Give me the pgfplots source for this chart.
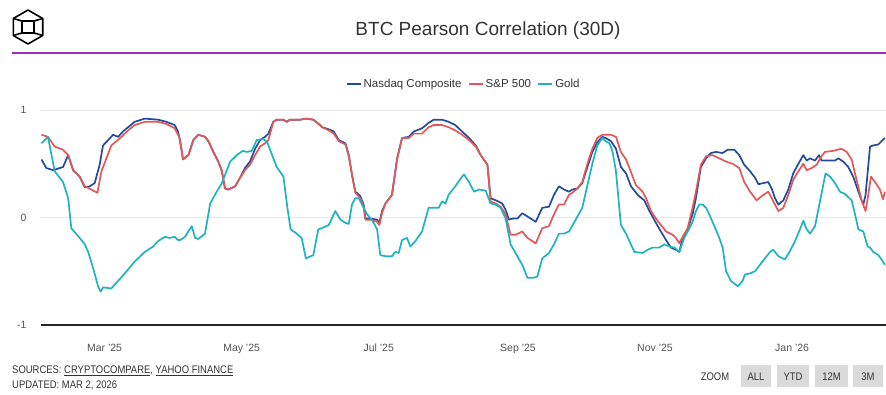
\documentclass[border=0pt]{standalone}
\usepackage{pgfplots}
\pgfplotsset{compat=1.18}
\usepackage{fontspec}
\setmainfont{Liberation Sans}
\newfontfamily\condensed[FakeStretch=0.86]{Liberation Sans}
\definecolor{nasdaq}{RGB}{35,75,155}
\definecolor{spx}{RGB}{226,88,88}
\definecolor{gold}{RGB}{32,178,190}
\definecolor{accent}{RGB}{155,45,175}
\definecolor{txt}{RGB}{51,51,51}
\definecolor{gridc}{RGB}{232,232,232}
\definecolor{btn}{RGB}{218,218,218}
\begin{document}
\begin{tikzpicture}[x=1pt,y=1pt]
\path[use as bounding box] (0,0) rectangle (886,394);
% logo
\draw[black, line width=1.6pt, line join=round]
  (28,384) -- (42.7,375.5) -- (42.7,358.5) -- (28,350) -- (13.3,358.5) -- (13.3,375.5) -- cycle;
\draw[black, line width=1.6pt, line join=round] (22,361) rectangle (34,373);
\draw[black, line width=1.6pt] (13.3,375.5) -- (22,373) (42.7,375.5) -- (34,373)
  (13.3,358.5) -- (22,361) (42.7,358.5) -- (34,361);
% title
\node[anchor=base, text=txt, font=\fontsize{19}{22}\selectfont, inner sep=0pt] at (488,358) {BTC Pearson Correlation (30D)};
\draw[accent, line width=1.5pt] (12,341) -- (886,341);
% footer
\node[anchor=base west, inner sep=0pt, text=txt, font=\condensed\fontsize{11}{12}\selectfont] at (12,20.5) {SOURCES: \underline{CRYPTOCOMPARE}, \underline{YAHOO FINANCE}};
\node[anchor=base west, inner sep=0pt, text=txt, font=\condensed\fontsize{11}{12}\selectfont] at (12,6) {UPDATED: MAR 2, 2026};
\node[anchor=base, inner sep=0pt, text=txt, font=\condensed\fontsize{11}{12}\selectfont] at (715,14) {ZOOM};
\foreach \a/\b/\t in {741/771/ALL,777/809/YTD,815/848/12M,853/883/3M}{
  \fill[btn] (\a,7) rectangle (\b,29);
  \node[anchor=base, inner sep=0pt, text=txt, font=\condensed\fontsize{11}{12}\selectfont] at ({(\a+\b)/2},14) {\t};
}
\begin{axis}[
  at={(41pt,69pt)}, anchor=south west, scale only axis,
  width=845pt, height=215pt,
  xmin=30.7, xmax=406.8, ymin=-1, ymax=1,
  axis lines*=left,
  x axis line style={draw=black!85, line width=1.2pt, -},
  y axis line style={draw=none},
  xtick={59,120,181,243,304,365},
  xticklabels={Mar '25,May '25,Jul '25,Sep '25,Nov '25,Jan '26},
  ytick={-1,0,1}, yticklabels={-1,0,1},
  major tick length=0pt,
  ymajorgrids, grid style={draw=gridc, line width=0.8pt},
  tick label style={font=\fontsize{10.5}{12}\selectfont, text=txt!85},
  xticklabel style={yshift=-15pt, text height=8pt, text depth=2pt},
  yticklabel style={xshift=-11pt},
  legend style={at={(0.5,1)}, anchor=south, yshift=17pt, draw=none, fill=none,
    font=\fontsize{11.5}{13}\selectfont, text=txt, legend columns=3,
    /tikz/every even column/.append style={column sep=4pt}},
  legend image code/.code={\draw[#1, line width=2.2pt] (0pt,0pt) -- (14pt,0pt);},
  every axis plot/.append style={line width=1.7pt, line join=round},
]
\addplot[nasdaq] coordinates {
(30.9,0.54)(33.1,0.46)(36.1,0.44)(40.5,0.47)(42.8,0.58)(45.0,0.44)(47.9,0.38)(50.2,0.28)(52.4,0.29)(54.6,0.32)(56.8,0.49)(58.3,0.67)(60.6,0.72)(62.8,0.77)(65.0,0.75)(67.2,0.80)(69.5,0.84)(72.4,0.89)(76.9,0.92)(82.8,0.91)(86.5,0.89)(90.2,0.86)(91.7,0.80)(93.2,0.64)(93.9,0.54)
(95.6,0.57)(96.3,0.58)(98.5,0.72)(100.7,0.77)(103.7,0.75)(105.2,0.71)(107.4,0.61)(109.6,0.52)(111.1,0.44)(112.6,0.27)(114.1,0.26)(117.1,0.29)(119.3,0.37)(121.5,0.46)(123.7,0.52)(126.0,0.64)(128.2,0.72)(130.4,0.75)(131.9,0.78)(134.1,0.89)(135.6,0.91)(138.6,0.91)(140.0,0.89)(141.5,0.91)(146.0,0.91)(149.0,0.92)(151.9,0.91)(154.9,0.86)
(155.8,0.84)(158.8,0.82)(161.0,0.80)(163.2,0.72)(166.2,0.69)(167.7,0.58)(169.1,0.40)(170.6,0.24)(172.8,0.20)(174.3,0.12)(175.1,-0.01)(177.3,-0.01)(180.3,-0.02)(181.3,-0.05)(182.5,0.06)(184.0,0.13)(186.9,0.21)(189.2,0.55)(191.4,0.74)(194.4,0.75)(196.6,0.80)(200.3,0.83)(203.2,0.88)(205.5,0.91)(209.2,0.91)(212.1,0.89)(215.1,0.86)(218.1,0.80)
(221.2,0.74)(224.2,0.67)(226.4,0.58)(229.4,0.49)(230.8,0.18)(233.1,0.16)(236.0,0.13)(237.5,0.07)(239.0,-0.02)(240.5,-0.01)(242.7,-0.01)(244.9,0.04)(247.2,0.01)(250.9,-0.04)(253.8,0.09)(256.8,0.10)(259.0,0.21)(261.2,0.29)(263.5,0.26)(265.7,0.24)(267.2,0.26)(269.4,0.27)(271.6,0.32)(273.9,0.47)(276.1,0.61)(278.3,0.70)(280.5,0.75)(282.0,0.74)
(284.4,0.71)(286.6,0.64)(288.8,0.47)(291.1,0.41)(293.3,0.29)(296.3,0.21)(299.2,0.16)(301.5,0.06)(304.4,-0.05)(306.6,-0.13)(308.9,-0.21)(311.1,-0.28)(313.3,-0.30)(314.8,-0.32)(316.3,-0.19)(318.5,-0.11)(320.7,0.03)(322.2,0.18)(324.4,0.47)(326.7,0.55)(328.9,0.60)(331.1,0.61)(334.1,0.60)(336.3,0.63)(339.3,0.63)(341.5,0.58)(343.7,0.49)
(346.3,0.43)(348.5,0.37)(350.0,0.31)(352.2,0.32)(354.4,0.33)(355.9,0.27)(357.4,0.18)(358.9,0.12)(361.1,0.16)(363.3,0.26)(365.5,0.41)(367.8,0.50)(370.0,0.58)(371.5,0.53)(373.0,0.55)(375.2,0.53)(377.0,0.58)(378.1,0.53)(381.1,0.53)(384.1,0.53)(385.6,0.55)(387.8,0.52)(390.0,0.47)(392.2,0.38)(393.7,0.29)(395.2,0.20)(396.7,0.12)(397.7,0.21)(399.7,0.66)(401.1,0.67)(403.4,0.68)(404.8,0.71)(406.3,0.74)
};
\addlegendentry{Nasdaq Composite}
\addplot[spx] coordinates {
(30.9,0.77)(33.8,0.75)(36.8,0.66)(40.5,0.63)(42.8,0.58)(45.0,0.44)(47.9,0.38)(50.2,0.29)(53.1,0.26)(55.8,0.23)(57.6,0.43)(59.8,0.55)(62.0,0.67)(64.3,0.71)(66.5,0.75)(69.5,0.81)(72.4,0.86)(76.9,0.89)(82.8,0.89)(86.5,0.87)(90.2,0.83)(92.4,0.74)(93.9,0.54)
(95.6,0.57)(96.3,0.58)(98.5,0.72)(100.7,0.77)(103.7,0.75)(105.2,0.71)(107.4,0.61)(109.6,0.52)(111.1,0.44)(112.6,0.27)(114.1,0.26)(117.1,0.29)(119.3,0.37)(121.5,0.44)(123.7,0.49)(126.0,0.58)(128.2,0.66)(130.4,0.69)(131.9,0.72)(134.1,0.89)(135.6,0.91)(138.6,0.91)(140.0,0.89)(141.5,0.91)(146.0,0.91)(149.0,0.92)(151.9,0.91)(154.9,0.86)
(155.8,0.84)(158.8,0.81)(161.0,0.78)(163.2,0.71)(166.2,0.68)(167.7,0.57)(169.1,0.40)(170.6,0.23)(172.8,0.18)(174.3,0.10)(175.1,-0.02)(177.3,-0.02)(180.3,-0.04)(181.3,-0.07)(182.5,0.04)(184.0,0.13)(186.9,0.21)(189.2,0.54)(191.4,0.74)(194.4,0.74)(196.6,0.78)(200.3,0.78)(203.2,0.84)(205.5,0.86)(209.2,0.86)(212.1,0.84)(215.1,0.81)(218.1,0.77)
(221.2,0.72)(224.2,0.66)(226.4,0.58)(229.4,0.49)(230.8,0.15)(233.1,0.13)(235.3,0.10)(237.5,0.03)(239.7,-0.16)(242.0,-0.16)(244.9,-0.13)(247.2,-0.19)(250.9,-0.24)(253.8,-0.10)(256.8,-0.08)(259.0,0.03)(261.2,0.12)(263.5,0.12)(265.7,0.21)(267.2,0.23)(269.4,0.27)(271.6,0.33)(273.9,0.50)(276.1,0.64)(278.3,0.74)(280.5,0.77)(282.2,0.77)
(284.4,0.77)(286.6,0.75)(288.8,0.61)(291.1,0.54)(292.6,0.46)(295.5,0.30)(298.5,0.24)(300.0,0.18)(302.2,0.06)(304.4,-0.01)(306.6,-0.07)(308.9,-0.13)(311.8,-0.16)(313.3,-0.19)(314.8,-0.24)(316.3,-0.18)(318.5,-0.10)(320.7,0.09)(322.2,0.24)(324.4,0.49)(326.7,0.57)(329.6,0.58)(332.6,0.55)(335.6,0.52)(338.5,0.50)(341.5,0.46)(343.7,0.33)
(346.3,0.24)(349.2,0.16)(352.2,0.21)(354.4,0.24)(355.9,0.18)(358.9,0.06)(361.1,0.09)(363.3,0.21)(365.5,0.35)(367.8,0.43)(370.0,0.50)(371.5,0.44)(373.7,0.46)(375.9,0.49)(378.1,0.57)(379.6,0.61)(383.3,0.62)(387.0,0.64)(389.3,0.61)(391.5,0.54)(393.7,0.35)(395.9,0.16)(397.7,0.06)(398.9,0.21)(400.1,0.38)(401.9,0.33)(404.1,0.26)(405.5,0.17)(406.3,0.24)
};
\addlegendentry{S\&P 500}
\addplot[gold] coordinates {
(30.9,0.69)(33.8,0.75)(36.8,0.43)(40.5,0.33)(42.8,0.18)(44.2,-0.10)(47.9,-0.19)(50.2,-0.25)(51.7,-0.32)(53.9,-0.47)(56.1,-0.64)(57.3,-0.69)(58.3,-0.65)(62.0,-0.66)(65.0,-0.59)(68.0,-0.52)(72.4,-0.41)(76.9,-0.32)(80.6,-0.27)(82.8,-0.22)(85.8,-0.18)(88.0,-0.19)(90.2,-0.18)(91.7,-0.21)
(92.6,-0.21)(94.8,-0.18)(97.8,-0.08)(99.3,-0.19)(100.7,-0.20)(103.7,-0.15)(106.0,0.13)(108.9,0.24)(111.2,0.32)(114.9,0.52)(117.8,0.58)(120.5,0.62)(122.3,0.61)(124.5,0.62)(126.7,0.72)(129.7,0.73)(131.4,0.70)(135.6,0.47)(138.6,0.38)(140.3,0.10)(141.8,-0.11)(144.5,-0.15)(146.7,-0.19)(148.6,-0.38)(151.9,-0.35)(154.1,-0.11)(155.6,-0.10)
(158.8,-0.07)(161.7,0.06)(164.0,-0.02)(166.2,-0.05)(167.7,-0.06)(169.1,0.12)(170.6,0.18)(172.1,0.18)(173.6,0.12)(175.8,0.03)(178.0,-0.02)(180.3,-0.11)(181.7,-0.35)(184.0,-0.36)(186.9,-0.36)(188.4,-0.32)(189.9,-0.33)(191.4,-0.21)(193.6,-0.19)(195.1,-0.27)(197.3,-0.22)(200.3,-0.13)(203.2,0.09)(205.5,0.09)(207.7,0.09)(209.2,0.15)(210.7,0.13)(212.1,0.21)(215.1,0.29)(218.1,0.38)
(219.0,0.40)(221.2,0.33)(223.4,0.24)(225.7,0.26)(228.6,0.25)(230.8,0.13)(233.1,0.12)(235.3,0.09)(237.5,-0.01)(239.7,-0.25)(242.7,-0.36)(244.9,-0.44)(247.2,-0.56)(250.1,-0.56)(251.6,-0.55)(253.8,-0.38)(256.8,-0.33)(259.0,-0.25)(261.2,-0.15)(263.5,-0.15)(265.7,-0.13)(268.7,-0.02)(271.6,0.09)(273.9,0.30)(276.1,0.50)(278.3,0.67)(280.5,0.74)(282.0,0.71)
(283.7,0.69)(285.1,0.61)(286.6,0.43)(288.8,-0.07)(291.1,-0.15)(292.6,-0.22)(294.8,-0.32)(298.5,-0.33)(300.7,-0.30)(302.9,-0.28)(305.9,-0.28)(308.1,-0.25)(310.4,-0.27)(312.6,-0.28)(314.8,-0.32)(317.0,-0.19)(319.3,-0.10)(320.7,-0.04)(322.2,0.06)(323.7,0.12)(325.2,0.12)(326.7,0.09)(328.1,0.03)(330.4,-0.08)(332.6,-0.19)(334.1,-0.28)(335.6,-0.50)(337.8,-0.59)(340.8,-0.64)(343.0,-0.59)
(344.0,-0.53)(346.3,-0.52)(348.5,-0.50)(350.7,-0.44)(352.9,-0.38)(355.2,-0.32)(356.6,-0.30)(358.9,-0.36)(361.8,-0.39)(364.1,-0.31)(366.3,-0.22)(368.5,-0.11)(370.0,-0.03)(371.5,-0.11)(373.0,-0.15)(375.2,-0.08)(377.4,0.15)(379.9,0.41)(381.9,0.38)(384.1,0.32)(386.3,0.24)(388.5,0.22)(391.5,0.16)(393.0,0.03)(394.5,-0.11)(396.7,-0.13)(398.6,-0.27)(399.7,-0.28)(401.1,-0.32)(403.4,-0.35)(404.8,-0.39)(406.3,-0.44)
};
\addlegendentry{Gold}
\end{axis}
\end{tikzpicture}
\end{document}
